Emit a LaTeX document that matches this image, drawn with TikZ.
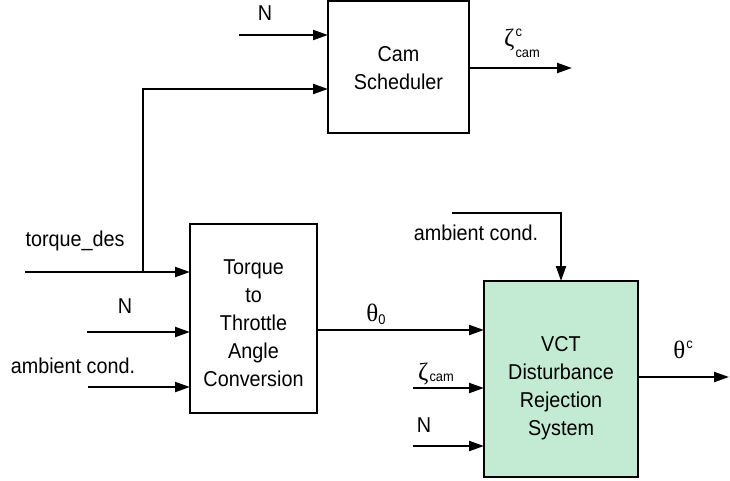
\documentclass[tikz,border=0pt]{standalone}
\usepackage{fontspec}
\setmainfont[FakeStretch=0.92]{Liberation Sans}
\newfontfamily\grkfam{Liberation Serif}
\usetikzlibrary{arrows.meta}
\definecolor{vctgreen}{RGB}{195,235,211}
\newcommand{\scr}{\fontsize{14}{14}\selectfont}
\newcommand{\grk}{\grkfam\fontsize{25}{28}\selectfont}
\begin{document}
\begin{tikzpicture}[x=1pt,y=-1pt,
  every node/.style={inner sep=0pt,outer sep=0pt,font=\fontsize{21.5}{28}\selectfont},
  blk/.style={draw,line width=2pt,rectangle},
  arr/.style={line width=2pt,-{Triangle[length=15pt,width=10pt]}},
  lbl/.style={anchor=base},
  blktext/.style={align=center}]
\useasboundingbox (0,0) rectangle (730,480);
% blocks
\node[blk,minimum width=141pt,minimum height=132pt] (cam) at (398.5,67) {};
\node[blk,minimum width=127pt,minimum height=189pt] (torque) at (253.5,318.5) {};
\node[blk,fill=vctgreen,minimum width=154pt,minimum height=196pt] (vct) at (561,379) {};
\node[blktext] (camtext) at ([yshift=-1pt]cam.center) {Cam\\Scheduler};
\node[blktext] (torquetext) at ([yshift=-4.5pt]torque.center) {Torque\\to\\Throttle\\Angle\\Conversion};
\node[blktext] (vcttext) at ([yshift=-9pt]vct.center) {VCT\\Disturbance\\Rejection\\System};
% free ends
\coordinate (nTop) at (239,35);
\coordinate (tdes) at (25,272);
\coordinate (br) at (143,272);
\coordinate (nLeft) at (87,332);
\coordinate (ambLeft) at (88,387);
\coordinate (zIn) at (413,388);
\coordinate (nIn) at (413,446);
\coordinate (ambTop) at (452,213);
\coordinate (zOut) at (572,68);
\coordinate (tOut) at (729,377);
\coordinate (p0) at ([yshift=-11.5pt]torque.east);
\coordinate (camIn2) at ([yshift=-22pt]cam.west);
% connectors
\draw[arr] (nTop) -- (cam.west |- nTop);
\draw[arr] (br) |- (camIn2);
\draw[arr] (tdes) -- (torque.west |- tdes);
\draw[arr] (nLeft) -- (torque.west |- nLeft);
\draw[arr] (ambLeft) -- (torque.west |- ambLeft);
\draw[arr] (p0) -- (vct.west |- p0);
\draw[arr] (zIn) -- (vct.west |- zIn);
\draw[arr] (nIn) -- (vct.west |- nIn);
\draw[arr] (ambTop) -| (vct.north);
\draw[arr] (cam.east |- zOut) -- (zOut);
\draw[arr] (vct.east |- tOut) -- (tOut);
% labels
\node[lbl] (lNTop) at (265,20) {N};
\node[lbl] (lZOut) at (522,46) {{\grk ζ}\kern1pt\rlap{\raisebox{10pt}{\scr c}}\raisebox{-11pt}{\scr cam}};
\node[lbl] (lTdes) at (75,246) {torque\_des};
\node[lbl] (lNLeft) at (125,313) {N};
\node[lbl] (lAmbLeft) at (73,373) {ambient cond.};
\node[lbl] (lTheta0) at (376,321) {{\grk θ}\raisebox{-3pt}{\scr 0}};
\node[lbl] (lAmbTop) at (476,240) {ambient cond.};
\node[lbl] (lZIn) at (436,380) {{\grk ζ}\kern1pt\raisebox{-1pt}{\scr cam}};
\node[lbl] (lNIn) at (424,432) {N};
\node[lbl] (lThetaC) at (683,358) {{\grk θ}\kern1pt\raisebox{10pt}{\scr c}};
\end{tikzpicture}
\end{document}
